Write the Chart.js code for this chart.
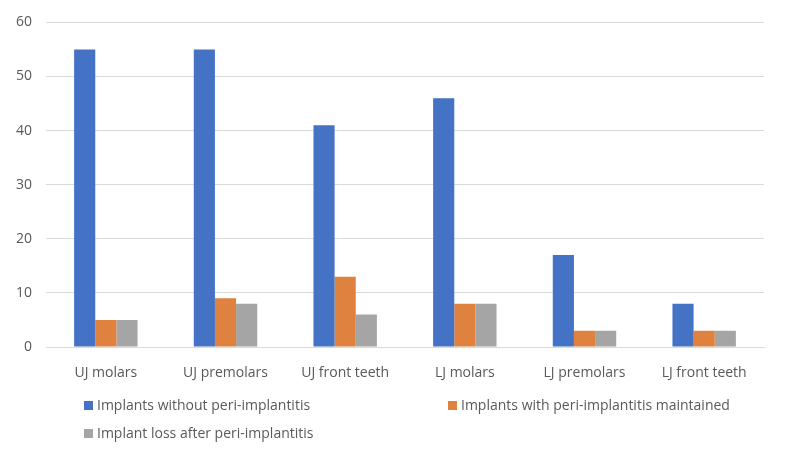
<!DOCTYPE html>
<html>
<head>
<meta charset="utf-8">
<script src="https://cdn.jsdelivr.net/npm/chart.js@4"></script>
<style>
  body { margin: 0; background: #fff; }
  #wrap { position: relative; width: 787px; height: 460px; }
  .leg { position: absolute; font: 14px "Open Sans", sans-serif; color: #595959; white-space: nowrap; }
  .leg span { display: inline-block; width: 9px; height: 9px; margin-right: 4px; }
</style>
</head>
<body>
<div id="wrap">
  <canvas id="implantChart" width="787" height="460"></canvas>
  <div class="leg" style="left:84px; top:395px;"><span style="background:#4472C4"></span>Implants without peri-implantitis</div>
  <div class="leg" style="left:448px; top:395px;"><span style="background:#E0823F"></span>Implants with peri-implantitis maintained</div>
  <div class="leg" style="left:84px; top:423px;"><span style="background:#A5A5A5"></span>Implant loss after peri-implantitis</div>
</div>
<script>
var categories = ['UJ molars', 'UJ premolars', 'UJ front teeth', 'LJ molars', 'LJ premolars', 'LJ front teeth'];
var withoutPeri = [55, 55, 41, 46, 17, 8];
var withPeriMaintained = [5, 9, 13, 8, 3, 3];
var lossAfterPeri = [5, 8, 6, 8, 3, 3];

var ctx = document.getElementById('implantChart').getContext('2d');
var implantChart = new Chart(ctx, {
    type: 'bar',
    data: {
        labels: categories,
        datasets: [
            {
                label: 'Implants without peri-implantitis',
                backgroundColor: '#4472C4',
                data: withoutPeri
            },
            {
                label: 'Implants with peri-implantitis maintained',
                backgroundColor: '#E0823F',
                data: withPeriMaintained
            },
            {
                label: 'Implant loss after peri-implantitis',
                backgroundColor: '#A5A5A5',
                data: lossAfterPeri
            }
        ]
    },
    options: {
        responsive: false,
        animation: false,
        layout: { padding: { top: 22, right: 23, bottom: 73, left: 0 } },
        datasets: { bar: { categoryPercentage: 0.53, barPercentage: 1 } },
        plugins: {
            legend: { display: false },
            tooltip: { enabled: false }
        },
        scales: {
            x: {
                grid: { display: false },
                border: { color: '#d9d9d9' },
                ticks: { color: '#595959', font: { family: 'Open Sans', size: 14 }, padding: 10 },
                afterFit: function (s) { s.height = 40; }
            },
            y: {
                min: 0,
                max: 60,
                ticks: { stepSize: 10, color: '#595959', font: { family: 'Open Sans', size: 14 }, padding: 14 },
                grid: { color: '#d9d9d9', drawTicks: false },
                border: { display: false },
                afterFit: function (s) { s.width = 46; }
            }
        }
    }
});
</script>
</body>
</html>
